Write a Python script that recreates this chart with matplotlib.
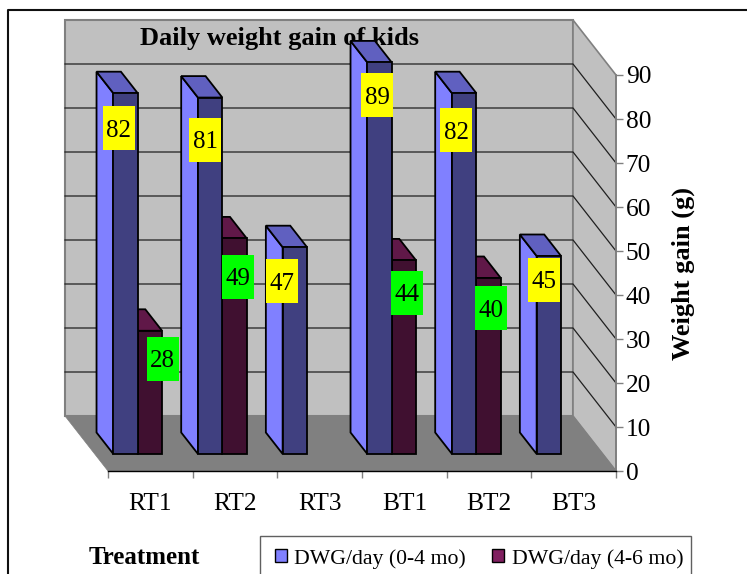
import matplotlib
matplotlib.use("Agg")
import matplotlib.pyplot as plt
from matplotlib.lines import Line2D
from matplotlib.patches import Patch, Polygon, Rectangle

plt.rcParams["font.family"] = ["Liberation Serif", "DejaVu Serif"]

categories = ["RT1", "RT2", "RT3", "BT1", "BT2", "BT3"]
gain_0_4 = [82, 81, 47, 89, 82, 45]
gain_4_6 = [28, 49, None, 44, 40, None]
series_names = ["DWG/day (0-4 mo)", "DWG/day (4-6 mo)"]
y_ticks = [0, 10, 20, 30, 40, 50, 60, 70, 80, 90]

# Data-label nudges from each bar's front top centre, in pixels (right, down)
nudge_0_4 = [(-6.5, 35), (-5, 42), (-13, 34), (-2.5, 33), (-8, 37), (-5, 24)]
nudge_4_6 = [(13, 28), (3.4, 38.6), None, (3, 32.6), (2.4, 30.5), None]

W, H = 747, 574
AX_L, AX_R, AX_T, AX_B = 108, 616, 75, 471
PX_X = (AX_R - AX_L) / len(categories)   # pixels per category
PX_Y = (AX_B - AX_T) / 90                # pixels per value unit
DEPTH_X, DEPTH_Y = -43 / PX_X, 55 / PX_Y
D_FRONT, D_BACK = 0.31, 0.70
GAP, BAR_W = 0.22, 0.288

fig = plt.figure(figsize=(W / 100, H / 100), dpi=100, facecolor="white")
ax = fig.add_axes([AX_L / W, 1 - AX_B / H, (AX_R - AX_L) / W, (AX_B - AX_T) / H])
ax.set_xlim(0, len(categories))
ax.set_ylim(0, 90)
ax.patch.set_visible(False)


def proj(x, v, d=0.0):
    return (x + DEPTH_X * d, v + DEPTH_Y * d)


def poly(points, face, edge, lw, z):
    ax.add_patch(Polygon(points, closed=True, facecolor=face, edgecolor=edge,
                         linewidth=lw, clip_on=False, zorder=z, joinstyle="miter"))


n = len(categories)
WALL, FLOOR, GRAY = "#C0C0C0", "#808080", "#808080"
poly([proj(0, 90, 1), proj(n, 90, 1), proj(n, 0, 1), proj(0, 0, 1)], WALL, GRAY, 1.5, 1)
poly([proj(n, 90, 1), proj(n, 90, 0), proj(n, 0, 0), proj(n, 0, 1)], WALL, GRAY, 1.2, 1)
poly([proj(0, 0, 1), proj(n, 0, 1), proj(n, 0, 0), proj(0, 0, 0)], FLOOR, FLOOR, 0.5, 1.1)

for t in y_ticks[1:-1]:
    p = [proj(0, t, 1), proj(n, t, 1), proj(n, t, 0)]
    ax.plot(*zip(*p), color="#202020", lw=0.9, zorder=1.5, clip_on=False)

ax.text((280 - AX_L) / PX_X, (AX_B - 38.5) / PX_Y, "Daily weight gain of kids",
        fontsize=19, fontweight="bold", ha="center", va="center", zorder=2, clip_on=False)


def draw_bar(x0, v, front, side, top, z):
    x1 = x0 + BAR_W
    poly([proj(x0, 0, D_FRONT), proj(x0, 0, D_BACK), proj(x0, v, D_BACK), proj(x0, v, D_FRONT)],
         side, "black", 1.3, z)
    poly([proj(x0, v, D_FRONT), proj(x0, v, D_BACK), proj(x1, v, D_BACK), proj(x1, v, D_FRONT)],
         top, "black", 1.3, z)
    poly([proj(x0, 0, D_FRONT), proj(x1, 0, D_FRONT), proj(x1, v, D_FRONT), proj(x0, v, D_FRONT)],
         front, "black", 1.3, z)


def draw_label(x0, v, value, nudge, color):
    cx, cy = proj(x0 + BAR_W / 2, v, D_FRONT)
    cx += nudge[0] / PX_X
    cy -= nudge[1] / PX_Y
    bw, bh = 32 / PX_X, 44 / PX_Y
    ax.add_patch(Rectangle((cx - bw / 2, cy - bh / 2), bw, bh, facecolor=color, edgecolor="none",
                           clip_on=False, zorder=20))
    ax.text(cx, cy, str(value), fontsize=18, ha="center", va="center_baseline", zorder=21,
            clip_on=False, color="black")


S1 = ("#404080", "#8080FF", "#6060C0")
S2 = ("#401030", "#802060", "#601848")
for i in range(n):
    if gain_4_6[i] is not None:
        draw_bar(i + GAP + BAR_W, gain_4_6[i], *S2, 3 + i)
    draw_bar(i + GAP, gain_0_4[i], *S1, 3.5 + i)
for i in range(n):
    draw_label(i + GAP, gain_0_4[i], gain_0_4[i], nudge_0_4[i], "#FFFF00")
    if gain_4_6[i] is not None:
        draw_label(i + GAP + BAR_W, gain_4_6[i], gain_4_6[i], nudge_4_6[i], "#00FF00")

# Axes
for s in ("left", "top"):
    ax.spines[s].set_visible(False)
ax.spines["right"].set_color(GRAY)
ax.spines["right"].set_linewidth(1.3)
ax.spines["right"].set_zorder(2)
ax.spines["bottom"].set_color("black")
ax.spines["bottom"].set_linewidth(1.0)
ax.spines["bottom"].set_zorder(2.5)
ax.yaxis.tick_right()
ax.set_yticks(y_ticks)
ax.tick_params(axis="y", which="major", length=5, width=1, color=GRAY, pad=2, labelsize=18.3)
ax.set_xticks(range(n + 1))
ax.set_xticklabels([])
ax.set_xticks([i + 0.5 for i in range(n)], minor=True)
ax.set_xticklabels(categories, minor=True)
ax.tick_params(axis="x", which="major", length=5, width=1, color=GRAY)
ax.tick_params(axis="x", which="minor", length=0, pad=16, labelsize=18.3)

fig.text(683 / W, 1 - 273 / H, "Weight gain (g)", rotation=90, fontsize=19, fontweight="bold",
         ha="center", va="center")
fig.text(144 / W, 1 - 558 / H, "Treatment", fontsize=18, fontweight="bold",
         ha="center", va="center")

# Outer frame running off the top-right and bottom
fig.add_artist(Line2D([8 / W, 8 / W, 1], [0, 1 - 10 / H, 1 - 10 / H], color="#101010", lw=1.5))

# Legend box runs past the bottom edge of the picture
fig.add_artist(Rectangle((260 / W, -0.02), (691 - 260) / W, 1 - 536 / H + 0.02,
                         transform=fig.transFigure, facecolor="white",
                         edgecolor="#606060", linewidth=1.0))
handles = [Patch(facecolor=S1[1], edgecolor="black", lw=1),
           Patch(facecolor=S2[1], edgecolor="black", lw=1)]
leg = fig.legend(handles, series_names, loc="upper left",
                 bbox_to_anchor=(265 / W, 1 - 539 / H), borderaxespad=0, ncols=2,
                 fontsize=15.7, handlelength=0.55, handleheight=0.55, handletextpad=0.35,
                 columnspacing=1.2, borderpad=0.45, frameon=False)

fig.savefig("out.png", dpi=100)
